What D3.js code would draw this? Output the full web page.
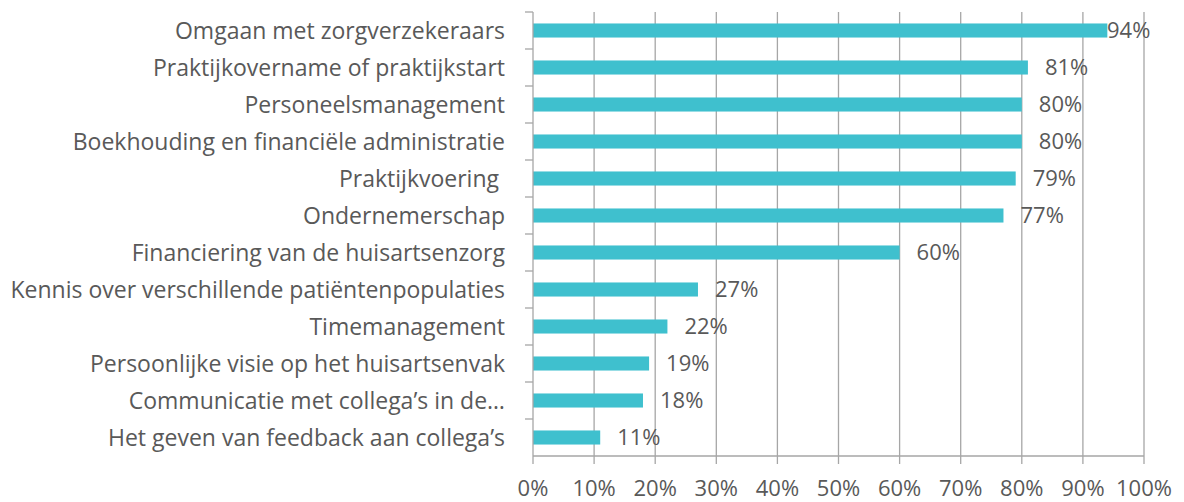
<!DOCTYPE html>
<html>
<head>
<meta charset="utf-8">
<script src="https://cdn.jsdelivr.net/npm/d3@7"></script>
<style>
  body { margin: 0; background: #fff; }
  text { font-family: "Open Sans", sans-serif; fill: #595959; white-space: pre; }
</style>
</head>
<body>
<svg id="chart" width="1184" height="502"></svg>
<script>
// categories top to bottom
var categories = [
  "Omgaan met zorgverzekeraars",
  "Praktijkovername of praktijkstart",
  "Personeelsmanagement",
  "Boekhouding en financiële administratie",
  "Praktijkvoering ",
  "Ondernemerschap",
  "Financiering van de huisartsenzorg",
  "Kennis over verschillende patiëntenpopulaties",
  "Timemanagement",
  "Persoonlijke visie op het huisartsenvak",
  "Communicatie met collega’s in de…",
  "Het geven van feedback aan collega’s"
];
var values = [94, 81, 80, 80, 79, 77, 60, 27, 22, 19, 18, 11];
var ticks = [0, 10, 20, 30, 40, 50, 60, 70, 80, 90, 100];

var svg = d3.select("#chart");
var plotL = 533, plotR = 1144, plotT = 12, plotB = 456;

var x = d3.scaleLinear().domain([0, 100]).range([plotL, plotR]);
var y = d3.scaleBand().domain(categories).range([plotT, plotB]).paddingInner(0.62).paddingOuter(0.31);

// gridlines
svg.append("g").selectAll("line")
  .data(ticks.slice(1))
  .join("line")
  .attr("x1", d => x(d)).attr("x2", d => x(d))
  .attr("y1", plotT).attr("y2", plotB + 8)
  .attr("stroke", "#a6a6a6").attr("stroke-width", 1.3);

// bars
svg.append("g").selectAll("rect")
  .data(values)
  .join("rect")
  .attr("x", x(0))
  .attr("y", (d, i) => y(categories[i]))
  .attr("width", d => x(d) - x(0))
  .attr("height", y.bandwidth())
  .attr("fill", "#3fc0ce");

// value labels
svg.append("g").selectAll("text")
  .data(values)
  .join("text")
  .attr("x", d => Math.min(x(d) + 17, 1107))
  .attr("y", (d, i) => y(categories[i]) + y.bandwidth() / 2)
  .attr("dy", "0.36em")
  .attr("font-size", 22)
  .text(d => d + "%");

// vertical axis
var step = (plotB - plotT) / categories.length;
svg.append("line")
  .attr("x1", plotL).attr("x2", plotL).attr("y1", plotT).attr("y2", plotB)
  .attr("stroke", "#a6a6a6").attr("stroke-width", 1.3);
svg.append("g").selectAll("line")
  .data(d3.range(categories.length))
  .join("line")
  .attr("x1", plotL - 8).attr("x2", plotL)
  .attr("y1", i => plotT + i * step).attr("y2", i => plotT + i * step)
  .attr("stroke", "#a6a6a6").attr("stroke-width", 1.3);

svg.append("g").selectAll("text")
  .data(categories)
  .join("text")
  .attr("x", 505)
  .attr("y", d => y(d) + y.bandwidth() / 2)
  .attr("dy", "0.36em")
  .attr("text-anchor", "end")
  .attr("font-size", 23)
  .text(d => d);

// horizontal axis
svg.append("line")
  .attr("x1", plotL).attr("x2", plotR).attr("y1", plotB).attr("y2", plotB)
  .attr("stroke", "#a6a6a6").attr("stroke-width", 1.3);
svg.append("line")
  .attr("x1", plotL).attr("x2", plotL).attr("y1", plotB).attr("y2", plotB + 8)
  .attr("stroke", "#a6a6a6").attr("stroke-width", 1.3);

svg.append("g").selectAll("text")
  .data(ticks)
  .join("text")
  .attr("x", d => x(d))
  .attr("y", 488)
  .attr("dy", "0.36em")
  .attr("text-anchor", "middle")
  .attr("font-size", 22)
  .text(d => d + "%");
</script>
</body>
</html>
